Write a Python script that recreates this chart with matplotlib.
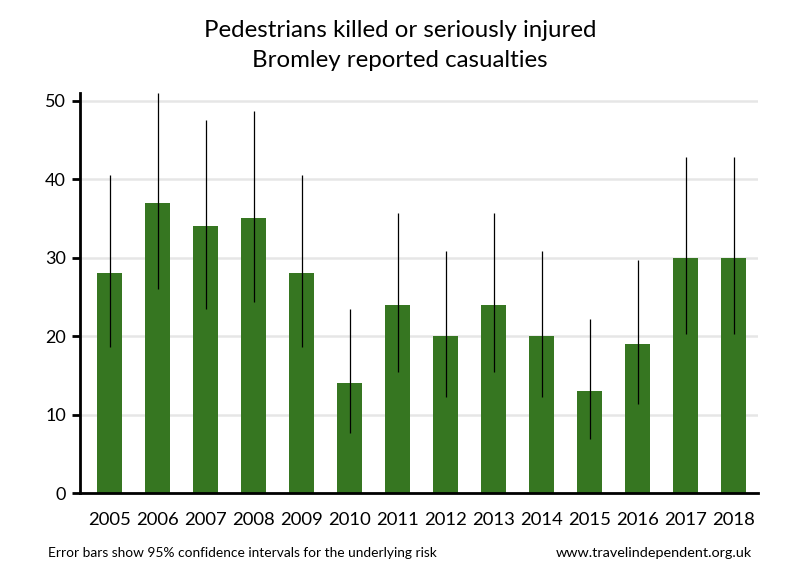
import matplotlib.pyplot as plt

years = ['2005', '2006', '2007', '2008', '2009', '2010', '2011',
         '2012', '2013', '2014', '2015', '2016', '2017', '2018']
casualties = [28, 37, 34, 35, 28, 14, 24, 20, 24, 20, 13, 19, 30, 30]
ci_low = [18.6, 26.0, 23.5, 24.4, 18.6, 7.6, 15.4, 12.2, 15.4, 12.2, 6.9, 11.4, 20.2, 20.2]
ci_high = [40.5, 51.0, 47.5, 48.7, 40.5, 23.5, 35.7, 30.9, 35.7, 30.9, 22.2, 29.7, 42.8, 42.8]

plt.rcParams['font.family'] = ['Lato', 'DejaVu Sans']

fig = plt.figure(figsize=(8, 5.8), dpi=100)
ax = fig.add_axes([0.1, 0.15, 0.8475, 0.69])

x = range(len(years))
err = [[c - lo for c, lo in zip(casualties, ci_low)],
       [hi - c for c, hi in zip(casualties, ci_high)]]
ax.bar(x, casualties, width=0.52, color='#367621', zorder=2)
ax.errorbar(x, casualties, yerr=err, fmt='none', ecolor='black',
            elinewidth=0.9, capsize=0, zorder=3)

ax.set_xlim(-0.615, 13.5)
ax.set_ylim(0, 51)
ax.set_yticks([0, 10, 20, 30, 40, 50])
ax.set_xticks(list(x))
ax.set_xticklabels(years)
ax.yaxis.grid(True, color='#e6e6e6', linewidth=1.8, zorder=0)
ax.set_axisbelow(True)

for side in ['top', 'right']:
    ax.spines[side].set_visible(False)
ax.spines['left'].set_linewidth(2)
ax.spines['bottom'].set_linewidth(2)
ax.tick_params(axis='y', length=6, width=2, labelsize=13, pad=4)
ax.tick_params(axis='x', length=0, labelsize=13.3, pad=14)

fig.text(0.5, 0.948, 'Pedestrians killed or seriously injured',
         ha='center', va='center', fontsize=17.3)
fig.text(0.5, 0.895, 'Bromley reported casualties',
         ha='center', va='center', fontsize=17.3)
fig.text(0.06, 0.046, 'Error bars show 95% confidence intervals for the underlying risk',
         ha='left', va='center', fontsize=9.9)
fig.text(0.94, 0.046, 'www.travelindependent.org.uk',
         ha='right', va='center', fontsize=10.4)

fig.savefig('out.png')
